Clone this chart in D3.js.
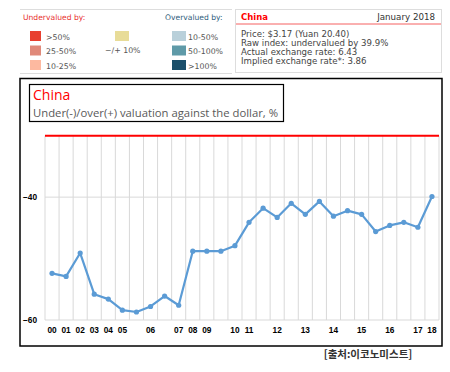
<!DOCTYPE html>
<html><head><meta charset="utf-8">
<script src="https://cdn.jsdelivr.net/npm/d3@7"></script>
<style>body{margin:0;background:#fff}svg{display:block}</style>
</head><body>
<svg id="c" width="450" height="372"></svg>
<script>
// Data
const periods = ["2000","2001","2002","2003","2004","2005","2005b","2006","2006b","2007","2008","2009","2009b","2010","2011","2011b","2012","2012b","2013","2013b","2014","2014b","2015","2015b","2016","2016b","2017","2018"];
const tickLabels = ["00","01","02","03","04","05","","06","","07","08","09","","10","11","","12","","13","","14","","15","","16","","17","18"];
const values = [-52.4,-52.9,-49.1,-55.8,-56.6,-58.4,-58.7,-57.8,-56.1,-57.6,-48.8,-48.8,-48.8,-47.9,-44.1,-41.8,-43.3,-41.0,-42.8,-40.7,-43.1,-42.2,-42.8,-45.6,-44.6,-44.1,-44.9,-39.9];
const yTicks = [-60,-40];
const yDomain = [-60,-30];
const legendUnder = [">50%","25-50%","10-25%"];
const underColors = ["#e8402f","#e0897a","#fdb9a0"];
const legendOver = ["10-50%","50-100%",">100%"];
const overColors = ["#b9d0da","#5f9aa8","#1b4f6a"];
const infoLines = ["Price: $3.17 (Yuan 20.40)","Raw index: undervalued by 39.9%","Actual exchange rate: 6.43","Implied exchange rate*: 3.86"];

const svg = d3.select("#c");
const vf = "DejaVu Sans, Verdana, sans-serif";

// Legend area
svg.append("line").attr("x1",20).attr("x2",232).attr("y1",9.5).attr("y2",9.5).attr("stroke","#ddd");
svg.append("line").attr("x1",20).attr("x2",232).attr("y1",73.5).attr("y2",73.5).attr("stroke","#ddd");
svg.append("text").attr("x",23).attr("y",20).attr("font-family",vf).attr("font-size",7.6).attr("fill","#e8312f").text("Undervalued by:");
svg.append("text").attr("x",165).attr("y",20).attr("font-family",vf).attr("font-size",7.6).attr("fill","#2f5d7c").text("Overvalued by:");
legendUnder.forEach((t,i)=>{
  svg.append("rect").attr("x",30).attr("y",31+i*14.5).attr("width",11).attr("height",10).attr("fill",underColors[i]);
  svg.append("text").attr("x",46).attr("y",39.5+i*14.5).attr("font-family",vf).attr("font-size",7.8).attr("fill","#555").text(t);
});
svg.append("rect").attr("x",115).attr("y",31).attr("width",14).attr("height",10).attr("fill","#e8dc98");
svg.append("text").attr("x",105).attr("y",52.5).attr("font-family",vf).attr("font-size",7.8).attr("fill","#555").text("\u2212/+ 10%");
legendOver.forEach((t,i)=>{
  svg.append("rect").attr("x",172).attr("y",31+i*14.5).attr("width",14).attr("height",10).attr("fill",overColors[i]);
  svg.append("text").attr("x",188).attr("y",39.5+i*14.5).attr("font-family",vf).attr("font-size",7.8).attr("fill","#555").text(t);
});

// Info panel
svg.append("rect").attr("x",235.5).attr("y",9.5).attr("width",206).attr("height",63).attr("fill","#fff").attr("stroke","#ddd");
svg.append("line").attr("x1",236).attr("x2",441).attr("y1",24).attr("y2",24).attr("stroke","#f56060").attr("stroke-width",1);
svg.append("text").attr("x",241).attr("y",20).attr("font-family",vf).attr("font-size",8.5).attr("font-weight","bold").attr("fill","#f00").text("China");
svg.append("text").attr("x",435).attr("y",20).attr("text-anchor","end").attr("font-family",vf).attr("font-size",8.7).attr("fill","#333").text("January 2018");
infoLines.forEach((t,i)=>{
  svg.append("text").attr("x",241).attr("y",36.5+i*9.3).attr("font-family",vf).attr("font-size",8.6).attr("fill","#444").text(t);
});

// Chart frame
svg.append("rect").attr("x",20).attr("y",78.5).attr("width",422).attr("height",267.5).attr("fill","none").attr("stroke","#000").attr("stroke-width",1.5);
svg.append("rect").attr("x",29.5).attr("y",84.5).attr("width",254).attr("height",37).attr("fill","#fff").attr("stroke","#000").attr("stroke-width",1.2);
svg.append("text").attr("x",33).attr("y",100).attr("font-family","Open Sans, sans-serif").attr("font-size",14).attr("fill","#f00").text("China");
svg.append("text").attr("x",33).attr("y",117).attr("font-family","Open Sans, sans-serif").attr("font-size",11.3).attr("fill","#595959").text("Under(-)/over(+) valuation against the dollar, %");

// Scales
const x = d3.scaleBand().domain(periods).range([45,439]).padding(0);
const y = d3.scaleLinear().domain(yDomain).range([320,135.7]);

// Vertical gridlines at band edges
const edges = periods.map(p=>x(p)).concat([x.range()[1]]);
svg.append("g").selectAll("line").data(edges).join("line")
  .attr("x1",d=>d).attr("x2",d=>d).attr("y1",y(yDomain[1])).attr("y2",y(yDomain[0]))
  .attr("stroke","#d9d9d9").attr("stroke-width",1);

// Horizontal gridlines
svg.append("g").selectAll("line").data(yTicks).join("line")
  .attr("x1",45).attr("x2",439).attr("y1",d=>y(d)).attr("y2",d=>y(d))
  .attr("stroke","#d9d9d9").attr("stroke-width",1);

// Red top line
svg.append("line").attr("x1",45).attr("x2",439).attr("y1",y(yDomain[1])).attr("y2",y(yDomain[1]))
  .attr("stroke","#f00").attr("stroke-width",2);

// Y axis labels
const yAxis = d3.axisLeft(y).tickValues(yTicks).tickSize(0).tickPadding(8);
const ga = svg.append("g").attr("transform","translate(45,0)").call(yAxis);
ga.select(".domain").remove();
ga.selectAll("text").attr("font-family","Liberation Sans, Arial, sans-serif").attr("font-size",8.3).attr("font-weight","bold").attr("fill","#000");

// X axis labels
const xAxis = d3.axisBottom(x).tickSize(0).tickPadding(7).tickFormat((d,i)=>tickLabels[i]);
const gx = svg.append("g").attr("transform","translate(0,320)").call(xAxis);
gx.select(".domain").remove();
gx.selectAll("text").attr("font-family","Liberation Sans, Arial, sans-serif").attr("font-size",8.3).attr("font-weight","bold").attr("fill","#000");

// Line
const pts = periods.map((p,i)=>({p, v: values[i]}));
const line = d3.line().x(d=>x(d.p)+x.bandwidth()/2).y(d=>y(d.v));
svg.append("path").datum(pts).attr("d",line).attr("fill","none").attr("stroke","#5b9bd5").attr("stroke-width",2.2).attr("stroke-linejoin","round");
svg.append("g").selectAll("circle").data(pts).join("circle")
  .attr("cx",d=>x(d.p)+x.bandwidth()/2).attr("cy",d=>y(d.v)).attr("r",2.6).attr("fill","#5b9bd5");

// Source
svg.append("text").attr("x",368).attr("y",358).attr("text-anchor","middle").attr("font-family","Noto Sans CJK KR, sans-serif").attr("font-size",10.5).attr("font-weight","bold").attr("fill","#333").text("[출처:이코노미스트]");
</script>
</body></html>
